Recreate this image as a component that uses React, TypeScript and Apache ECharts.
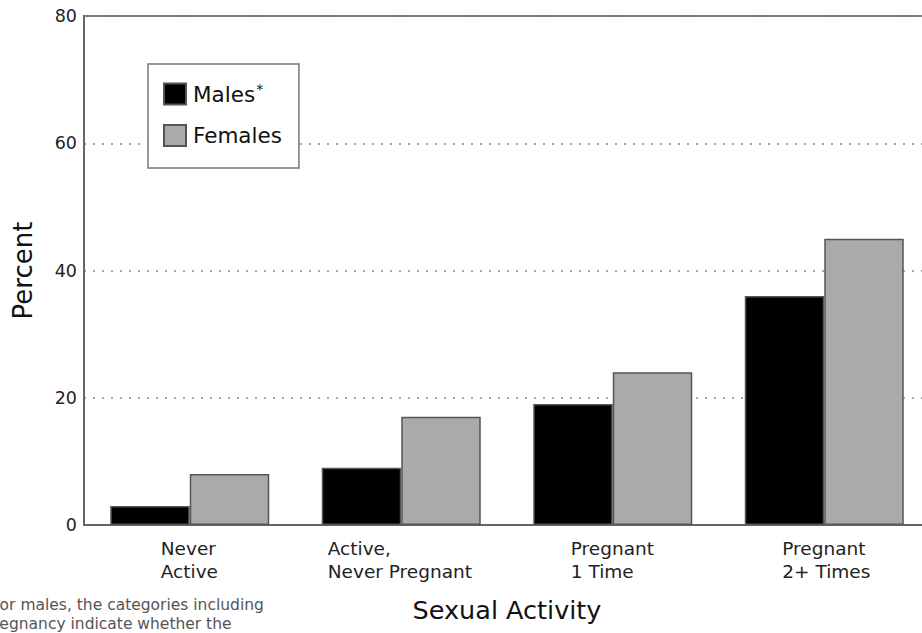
import React, { useEffect, useRef } from "react";
import * as echarts from "echarts";

const categories = ["Never\nActive", "Active,\nNever Pregnant", "Pregnant\n1 Time", "Pregnant\n2+ Times"];
const males = [3, 9, 19, 36];
const females = [8, 17, 24, 45];
const yTicks = [0, 20, 40, 60, 80];
const footnoteLines = ["*For males, the categories including", "pregnancy indicate whether the"];

const SANS = "'DejaVu Sans', Verdana, sans-serif";

export default function App() {
  const ref = useRef<HTMLDivElement>(null);
  useEffect(() => {
    if (!ref.current) return;
    const chart = echarts.init(ref.current, null, { renderer: "svg" });
    const widths = [58, 147, 84, 84];
    const rich: any = {};
    widths.forEach((w, i) => {
      rich["c" + i] = { width: w, align: "left", fontSize: 18.5, lineHeight: 23, color: "#222", fontFamily: SANS };
    });
    chart.setOption({
      animation: false,
      backgroundColor: "#fff",
      textStyle: { fontFamily: SANS },
      grid: {
        left: 84,
        top: 16,
        right: 0,
        bottom: 108,
        show: true,
        borderColor: "#777",
        borderWidth: 2,
        backgroundColor: "transparent",
      },
      legend: {
        orient: "vertical",
        left: 148,
        top: 64,
        padding: [18, 17, 21, 15],
        itemWidth: 22,
        itemHeight: 21,
        itemGap: 18,
        backgroundColor: "#fff",
        borderColor: "#777",
        borderWidth: 1.5,
        borderRadius: 0,
        icon: "rect",
        data: ["Males", "Females"],
        formatter: (name: string) => (name === "Males" ? "{n|Males}{s|*}" : "{n|Females}"),
        textStyle: {
          fontFamily: SANS,
          rich: {
            n: { fontSize: 21.5, lineHeight: 21, color: "#111", fontFamily: SANS, padding: [0, 0, 0, 2] },
            s: { fontSize: 14, lineHeight: 14, color: "#111", fontFamily: SANS, padding: [0, 0, 10, 1] },
          },
        },
      },
      xAxis: {
        type: "category",
        data: categories,
        name: "Sexual Activity",
        nameLocation: "middle",
        nameGap: 72,
        nameTextStyle: { fontSize: 25.5, color: "#111", fontFamily: SANS },
        axisLine: { show: true, lineStyle: { color: "#666", width: 2 } },
        axisTick: { show: false },
        axisLabel: {
          margin: 12,
          formatter: (v: string, i: number) =>
            v
              .split("\n")
              .map((l) => `{c${i}|${l}}`)
              .join("\n"),
          rich,
        },
      },
      yAxis: {
        type: "value",
        min: 0,
        max: 80,
        interval: 20,
        name: "Percent",
        nameLocation: "middle",
        nameGap: 48,
        nameTextStyle: { fontSize: 26, color: "#111", fontFamily: SANS },
        axisLine: { show: true, lineStyle: { color: "#666", width: 2 } },
        axisTick: { show: false },
        axisLabel: {
          margin: 7,
          fontSize: 17.5,
          color: "#222",
          fontFamily: SANS,
          formatter: (v: number) => (yTicks.includes(v) ? String(v) : ""),
        },
        splitLine: { show: true, lineStyle: { color: "#888", width: 1.5, type: [2, 7] } },
      },
      series: [
        {
          name: "Males",
          type: "bar",
          data: males,
          barWidth: 79.5,
          barGap: "0%",
          itemStyle: { color: "#000", borderColor: "#555", borderWidth: 1.5 },
        },
        {
          name: "Females",
          type: "bar",
          data: females,
          barWidth: 79.5,
          barGap: "0%",
          itemStyle: { color: "#aaaaaa", borderColor: "#555", borderWidth: 1.5 },
        },
      ],
      graphic: [
        {
          type: "text",
          left: -16.5,
          top: 595,
          style: {
            text: footnoteLines.join("\n"),
            fontSize: 15.5,
            lineHeight: 19,
            fill: "#555",
            fontFamily: SANS,
          },
        },
      ],
    });
    return () => chart.dispose();
  }, []);
  return (
    <div style={{ width: 922, height: 633, position: "absolute", left: 0, top: 0, overflow: "hidden" }}>
      <div ref={ref} style={{ width: 930, height: 633 }} />
    </div>
  );
}
